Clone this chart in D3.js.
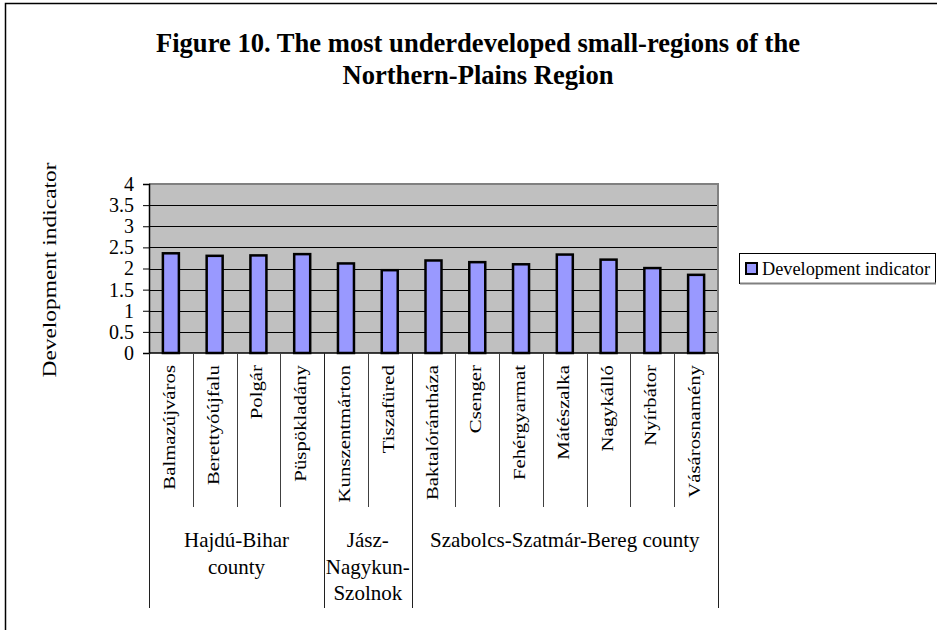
<!DOCTYPE html>
<html>
<head>
<meta charset="utf-8">
<script src="https://cdn.jsdelivr.net/npm/d3@7"></script>
<style>
  body { margin: 0; background: #fff; }
  svg { display: block; }
  svg text { font-family: "Liberation Serif", "Times New Roman", serif; fill: #000; }
</style>
</head>
<body>
<svg id="chart"></svg>
<script>
const width = 937;
const height = 630;

// data
const regions = ["Balmazújváros", "Berettyóújfalu", "Polgár", "Püspökladány",
    "Kunszentmárton", "Tiszafüred", "Baktalórántháza", "Csenger", "Fehérgyarmat",
    "Mátészalka", "Nagykálló", "Nyírbátor", "Vásárosnamény"];
const values = [2.36, 2.30, 2.31, 2.34, 2.12, 1.96, 2.19, 2.15, 2.10, 2.33, 2.21, 2.01, 1.85];
const countyLines = [["Hajdú-Bihar", "county"], ["Jász-", "Nagykun-", "Szolnok"], ["Szabolcs-Szatmár-Bereg county"]];
const countySizes = [4, 2, 7];
const yTicks = [0, 0.5, 1, 1.5, 2, 2.5, 3, 3.5, 4];
const titleLines = ["Figure 10. The most underdeveloped small-regions of the", "Northern-Plains Region"];
const seriesName = "Development indicator";
const yTitle = "Development indicator";

const plot = { left: 149, right: 718, top: 184, bottom: 353 };

const svg = d3.select("#chart")
    .attr("width", width)
    .attr("height", height);

// outer chart frame (runs off the picture on right/bottom)
svg.append("rect")
    .attr("x", 5.5).attr("y", 3.5)
    .attr("width", 960).attr("height", 660)
    .attr("fill", "#fff")
    .attr("stroke", "#000")
    .attr("stroke-width", 1.5);

// title, two centred lines
svg.selectAll(".title")
    .data(titleLines)
    .enter().append("text")
    .attr("class", "title")
    .attr("x", 478)
    .attr("y", (d, i) => 52 + i * 32)
    .attr("text-anchor", "middle")
    .attr("font-size", 26.6)
    .attr("font-weight", "bold")
    .text(d => d);

const x = d3.scaleBand()
    .domain(regions)
    .range([plot.left, plot.right])
    .padding(0);

const y = d3.scaleLinear()
    .domain([0, 4])
    .range([plot.bottom, plot.top]);

// plot area
svg.append("rect")
    .attr("x", plot.left).attr("y", plot.top)
    .attr("width", plot.right - plot.left)
    .attr("height", plot.bottom - plot.top)
    .attr("fill", "#c0c0c0");

svg.selectAll(".grid")
    .data(yTicks.slice(1, -1))
    .enter().append("line")
    .attr("class", "grid")
    .attr("x1", plot.left).attr("x2", plot.right)
    .attr("y1", d => Math.round(y(d)) + 0.5)
    .attr("y2", d => Math.round(y(d)) + 0.5)
    .attr("stroke", "#000")
    .attr("stroke-width", 1);

// gray border top + right
svg.append("path")
    .attr("d", `M${plot.left},${plot.top} H${plot.right} V${plot.bottom}`)
    .attr("fill", "none")
    .attr("stroke", "#808080")
    .attr("stroke-width", 2);

// bars
const barW = 16;
svg.selectAll(".bar")
    .data(values)
    .enter().append("rect")
    .attr("class", "bar")
    .attr("x", (d, i) => x(regions[i]) + x.bandwidth() / 2 - barW / 2)
    .attr("y", d => y(d))
    .attr("width", barW)
    .attr("height", d => y(0) - y(d))
    .attr("fill", "#9999ff")
    .attr("stroke", "#000")
    .attr("stroke-width", 2.5);

// y axis
const yAxis = svg.append("g")
    .attr("transform", `translate(${plot.left},0)`)
    .call(d3.axisLeft(y).tickValues(yTicks).tickSize(6).tickPadding(9).tickFormat(d3.format("")));
yAxis.attr("font-family", null);
yAxis.select(".domain").attr("stroke", "#000").attr("stroke-width", 1.5);
yAxis.selectAll(".tick line").attr("stroke", "#000");
yAxis.selectAll(".tick text")
    .attr("font-size", 20)
    .attr("fill", "#000");

// y title
svg.append("text")
    .attr("transform", "translate(56,270) rotate(-90)")
    .attr("text-anchor", "middle")
    .attr("font-size", 19)
    .attr("textLength", 215).attr("lengthAdjust", "spacingAndGlyphs")
    .text(yTitle);

// x axis line
svg.append("line")
    .attr("x1", plot.left).attr("x2", plot.right)
    .attr("y1", plot.bottom).attr("y2", plot.bottom)
    .attr("stroke", "#000").attr("stroke-width", 1.5);

// category separators
const groupEnds = d3.cumsum(countySizes);
const inner = d3.range(1, regions.length).filter(i => !groupEnds.includes(i));
svg.selectAll(".sep")
    .data(inner)
    .enter().append("line")
    .attr("x1", i => Math.round(x(regions[i])) + 0.5)
    .attr("x2", i => Math.round(x(regions[i])) + 0.5)
    .attr("y1", plot.bottom).attr("y2", 507)
    .attr("stroke", "#404040");
const outer = [0].concat(Array.from(groupEnds));
svg.selectAll(".gsep")
    .data(outer)
    .enter().append("line")
    .attr("x1", i => Math.round(plot.left + i * x.bandwidth()) + 0.5)
    .attr("x2", i => Math.round(plot.left + i * x.bandwidth()) + 0.5)
    .attr("y1", plot.bottom).attr("y2", 608)
    .attr("stroke", "#202020");

// category labels
svg.selectAll(".cat")
    .data(regions)
    .enter().append("text")
    .attr("transform", d => `translate(${x(d) + x.bandwidth() / 2 + 4},365) rotate(-90) scale(1.3,1)`)
    .attr("text-anchor", "end")
    .attr("font-size", 16)
    .text(d => d);

// county labels
countyLines.forEach((lines, g) => {
    const start = g === 0 ? 0 : groupEnds[g - 1];
    const cx = plot.left + (start + countySizes[g] / 2) * x.bandwidth();
    svg.selectAll(null)
        .data(lines)
        .enter().append("text")
        .attr("x", cx)
        .attr("y", (d, j) => 547 + j * 26.5)
        .attr("text-anchor", "middle")
        .attr("font-size", 21)
        .text(d => d);
});

// legend
const legend = svg.append("g");
legend.append("rect")
    .attr("x", 739.5).attr("y", 253.5)
    .attr("width", 196).attr("height", 30)
    .attr("fill", "#fff")
    .attr("stroke", "#000");
legend.append("line")
    .attr("x1", 740).attr("x2", 936)
    .attr("y1", 283.5).attr("y2", 283.5)
    .attr("stroke", "#808080").attr("stroke-width", 2);
legend.append("rect")
    .attr("x", 746).attr("y", 263)
    .attr("width", 11).attr("height", 11)
    .attr("fill", "#9999ff")
    .attr("stroke", "#000")
    .attr("stroke-width", 2);
legend.append("text")
    .attr("x", 762).attr("y", 275)
    .attr("font-size", 18)
    .attr("textLength", 168).attr("lengthAdjust", "spacingAndGlyphs")
    .text(seriesName);
</script>
</body>
</html>
